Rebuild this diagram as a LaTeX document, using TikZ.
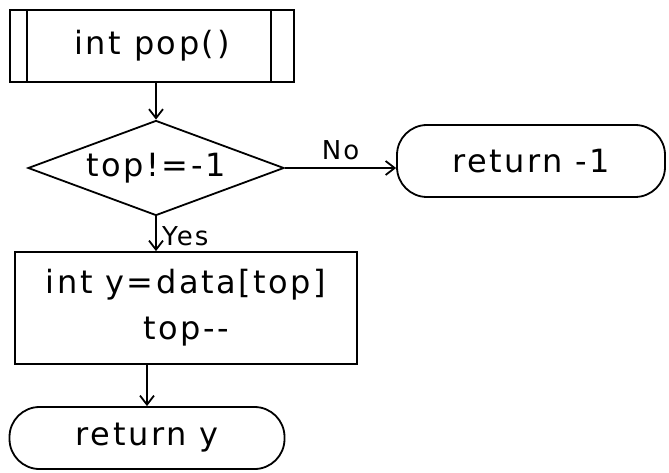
\documentclass[tikz,border=0pt]{standalone}
\usepackage{fontspec}
\setmainfont{DejaVu Sans}[LetterSpace=8]
\usetikzlibrary{shapes.geometric,arrows.meta}
\begin{document}
\begin{tikzpicture}[x=1pt,y=-1pt,
  line width=1.8pt,
  txt/.style={font=\fontsize{32}{46}\selectfont},
  lbl/.style={font=\fontsize{26}{28}\selectfont},
  arr/.style={-{Straight Barb[length=9pt,width=14pt]}}]
\useasboundingbox (0,0) rectangle (669,473);
% predefined process
\node[draw,minimum width=284pt,minimum height=72pt,inner sep=0pt,txt] (start) at (152,46) {int pop()};
\draw ([xshift=18pt]start.north west) -- ([xshift=18pt]start.south west);
\draw ([xshift=-24pt]start.north east) -- ([xshift=-24pt]start.south east);
% decision
\node[draw,diamond,aspect=2.7,minimum width=256pt,minimum height=95pt,inner sep=0pt,txt] (dec) at (156,168) {top!=-1};
% return -1
\node[draw,rounded corners=30pt,minimum width=268pt,minimum height=72pt,inner sep=0pt,txt] (ret1) at (531,161) {return -1};
% process
\node[draw,minimum width=342pt,minimum height=112pt,inner sep=0pt,txt,align=center] (proc) at (186,308) {int y=data[top]\\top{-}{-}};
% return y
\node[draw,rounded corners=30pt,minimum width=275pt,minimum height=62pt,inner sep=0pt,txt] (rety) at (147,438) {return y};
% connectors
\draw[arr] (start.south -| dec.north) -- (dec.north);
\draw[arr] (dec.east) -- node[above,lbl,yshift=4pt] {No} (dec.east -| ret1.west);
\draw[arr] (dec.south) -- node[right,lbl,xshift=2pt,yshift=-2pt] {Yes} (dec.south |- proc.north);
\draw[arr] (proc.south -| rety.north) -- (rety.north);
\end{tikzpicture}
\end{document}
